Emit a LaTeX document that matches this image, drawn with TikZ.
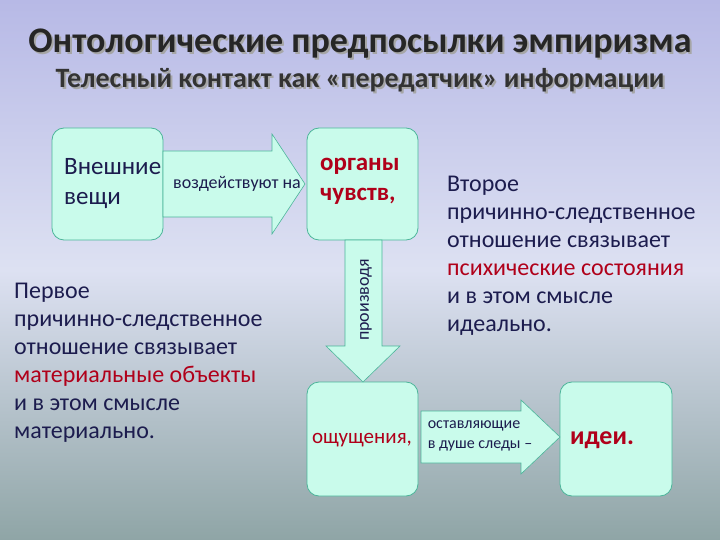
\documentclass[tikz,border=0pt]{standalone}
\usepackage{fontspec}
\setmainfont{Carlito}
\usetikzlibrary{shapes.arrows}
\definecolor{navy}{HTML}{1C1C4E}
\definecolor{dred}{HTML}{B0001A}
\definecolor{mint}{HTML}{C9FBEB}
\definecolor{mintb}{HTML}{4CB59A}
\definecolor{bgtop}{HTML}{B7B9E6}
\definecolor{bgmid}{HTML}{DDE1F2}
\definecolor{bgbot}{HTML}{8FA5A6}
\begin{document}
\begin{tikzpicture}[x=1pt,y=-1pt,
  box/.style={draw=mintb,line width=0.8pt,fill=mint,rounded corners=12pt},
  arr/.style={draw=mintb,line width=0.6pt,fill=mint},
  body/.style={text=navy,font=\fontsize{24}{28}\selectfont,align=left,anchor=north west,inner sep=0pt},
  hl/.style={text=dred}]
\useasboundingbox (0,0) rectangle (720,540);
\shade[top color=bgtop,bottom color=bgmid] (0,0) rectangle (720,270);
\shade[top color=bgmid,bottom color=bgbot] (0,270) rectangle (720,540);
\node[text=gray!70,font=\bfseries\fontsize{36}{40}\selectfont] at (362,46) {Онтологические предпосылки эмпиризма};
\node[text=black!85,font=\bfseries\fontsize{36}{40}\selectfont] (t1) at (360,44) {Онтологические предпосылки эмпиризма};
\node[text=gray!70,font=\bfseries\fontsize{28}{32}\selectfont] at (362,82) {Телесный контакт как «передатчик» информации};
\node[text=black!80,font=\bfseries\fontsize{28}{32}\selectfont] (t2) at (360,80) {Телесный контакт как «передатчик» информации};
% boxes
\draw[box] (52,128) rectangle (163,240);
\draw[box] (307,128) rectangle (418,240);
\draw[box] (307,382) rectangle (418,496);
\draw[box] (560,382) rectangle (672,496);
% arrows
\draw[arr] (163,151)--(272,151)--(272,134)--(305,184)--(272,234)--(272,217)--(163,217)--cycle;
\draw[arr] (345,240)--(382,240)--(382,346)--(400,346)--(363,382)--(326,346)--(345,346)--cycle;
\draw[arr] (421,411)--(521,411)--(521,400)--(560,437)--(521,474)--(521,463)--(421,463)--cycle;
% texts
\node[body,font=\fontsize{25}{30}\selectfont] (a) at (64,158) {Внешние\\вещи};
\node[text=navy,font=\fontsize{18}{20}\selectfont,inner sep=0pt] (b) at (237,184) {воздействуют на};
\node[body,hl,font=\bfseries\fontsize{25}{30}\selectfont] (c) at (320,158) {органы\\чувств,};
\node[text=navy,rotate=90,font=\fontsize{18}{20}\selectfont] (d) at (366,300) {производя};
\node[text=dred,font=\fontsize{21}{24}\selectfont] (e) at (362,440) {ощущения,};
\node[text=navy,align=left,font=\fontsize{16}{20}\selectfont,inner sep=0pt] (f) at (480,436) {оставляющие\\в душе следы –};
\node[text=dred,font=\bfseries\fontsize{26}{30}\selectfont] (g) at (602,440) {идеи.};
\node[body] (l) at (14,283) {Первое\\причинно-следственное\\отношение связывает\\\textcolor{dred}{материальные объекты}\\и в этом смысле\\материально.};
\node[body] (r) at (447,176) {Второе\\причинно-следственное\\отношение связывает\\\textcolor{dred}{психические состояния}\\и в этом смысле\\идеально.};
\end{tikzpicture}
\end{document}
